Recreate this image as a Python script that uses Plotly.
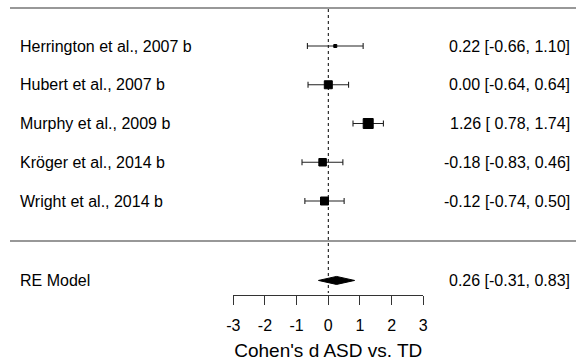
import plotly.graph_objects as go

# ---- data ----
studies = ["Herrington et al., 2007 b", "Hubert et al., 2007 b", "Murphy et al., 2009 b",
           "Kröger et al., 2014 b", "Wright et al., 2014 b"]
est = [0.22, 0.00, 1.26, -0.18, -0.12]
ci_lb = [-0.66, -0.64, 0.78, -0.83, -0.74]
ci_ub = [1.10, 0.64, 1.74, 0.46, 0.50]
re_label = "RE Model"
re_est, re_lb, re_ub = 0.26, -0.31, 0.83
x_ticks = [-3, -2, -1, 0, 1, 2, 3]
x_title = "Cohen's d ASD vs. TD"

# ---- style / layout ----
square_px = [3, 8, 10, 7.5, 8]
rows = list(range(len(studies), 0, -1))   # 5..1
re_row = -1.05
FONT = "Liberation Sans, Arial, sans-serif"
W, H = 576, 364
px_per_x, zero_px = 31.67, 328.3
px_per_row, row0_px = 38.75, 239.75
xmin, xmax = -zero_px / px_per_x, (W - zero_px) / px_per_x
ytop, ybot = row0_px / px_per_row, (row0_px - H) / px_per_row

def row_from_px(p):
    return (row0_px - p) / px_per_row

fig = go.Figure()

# error bars
fig.add_trace(go.Scatter(
    x=est, y=rows, mode="markers",
    marker=dict(size=0.1, color="rgba(0,0,0,0)"),
    error_x=dict(type="data", symmetric=False,
                 array=[u - e for u, e in zip(ci_ub, est)],
                 arrayminus=[e - l for e, l in zip(est, ci_lb)],
                 color="#222", thickness=1.1, width=3),
    showlegend=False, hoverinfo="skip", cliponaxis=False))
# squares
fig.add_trace(go.Scatter(
    x=est, y=rows, mode="markers",
    marker=dict(symbol="square", size=square_px, color="#000000", opacity=1,
                line=dict(color="#000000", width=1)),
    showlegend=False, hoverinfo="skip", cliponaxis=False))

# RE diamond
dh = 4 / px_per_row
fig.add_trace(go.Scatter(
    x=[re_lb, re_est, re_ub, re_est, re_lb],
    y=[re_row, re_row + dh, re_row, re_row - dh, re_row],
    mode="lines", fill="toself", fillcolor="black",
    line=dict(color="black", width=1), showlegend=False, hoverinfo="skip"))

# dummy trace for the bottom axis
fig.add_trace(go.Scatter(x=[x_ticks[0], x_ticks[-1]], y=[None, None], xaxis="x2", yaxis="y",
                         mode="markers", showlegend=False, hoverinfo="skip"))

shapes = [
    dict(type="line", xref="paper", yref="y", x0=10 / W, x1=1, y0=row_from_px(8), y1=row_from_px(8),
         line=dict(color="#333", width=1.2)),
    dict(type="line", xref="paper", yref="y", x0=10 / W, x1=1, y0=row_from_px(241), y1=row_from_px(241),
         line=dict(color="#333", width=1.2)),
    dict(type="line", xref="x", yref="y", x0=0, x1=0, y0=row_from_px(9), y1=row_from_px(293),
         line=dict(color="black", width=1, dash="dot"), layer="below"),
]

def fmt(v, w=0):
    return f"{v:.2f}".rjust(w)

lbw = max(len(fmt(v)) for v in ci_lb)
ubw = max(len(fmt(v)) for v in ci_ub)

annotations = []
for name, r, e, l, u in zip(studies, rows, est, ci_lb, ci_ub):
    annotations.append(dict(x=18 / W, xref="paper", y=r, yref="y", text=name, showarrow=False,
                            xanchor="left", yanchor="middle", font=dict(family=FONT, size=16, color="black")))
    annotations.append(dict(x=572 / W, xref="paper", y=r, yref="y",
                            text=f"{fmt(e)} [{fmt(l, lbw)}, {fmt(u, ubw)}]", showarrow=False,
                            xanchor="right", yanchor="middle", font=dict(family=FONT, size=16, color="black")))
annotations.append(dict(x=18 / W, xref="paper", y=re_row, yref="y", text=re_label, showarrow=False,
                        xanchor="left", yanchor="middle", font=dict(family=FONT, size=16, color="black")))
annotations.append(dict(x=572 / W, xref="paper", y=re_row, yref="y",
                        text=f"{fmt(re_est)} [{fmt(re_lb, lbw)}, {fmt(re_ub, ubw)}]", showarrow=False,
                        xanchor="right", yanchor="middle", font=dict(family=FONT, size=16, color="black")))

ax_left = (zero_px + x_ticks[0] * px_per_x) / W
ax_right = (zero_px + x_ticks[-1] * px_per_x) / W
axis_px = 295.3

fig.update_layout(
    width=W, height=H, margin=dict(l=0, r=0, t=0, b=0, autoexpand=False),
    paper_bgcolor="white", plot_bgcolor="rgba(0,0,0,0)",
    xaxis=dict(range=[xmin, xmax], visible=False, fixedrange=True),
    yaxis=dict(range=[ybot, ytop], visible=False, fixedrange=True),
    xaxis2=dict(domain=[ax_left, ax_right], range=[x_ticks[0], x_ticks[-1]], anchor="free",
                position=1 - axis_px / H, showline=True, linecolor="#333", linewidth=1,
                ticks="outside", ticklen=9, tickcolor="#333", tickwidth=1,
                tickvals=x_ticks, ticktext=[str(t) for t in x_ticks], showgrid=False, zeroline=False,
                tickfont=dict(family=FONT, size=16, color="black"), ticklabelstandoff=6,
                title=dict(text=x_title, font=dict(family=FONT, size=19, color="black"), standoff=11)),
    shapes=shapes, annotations=annotations, showlegend=False,
)

fig.write_html("out.html")
